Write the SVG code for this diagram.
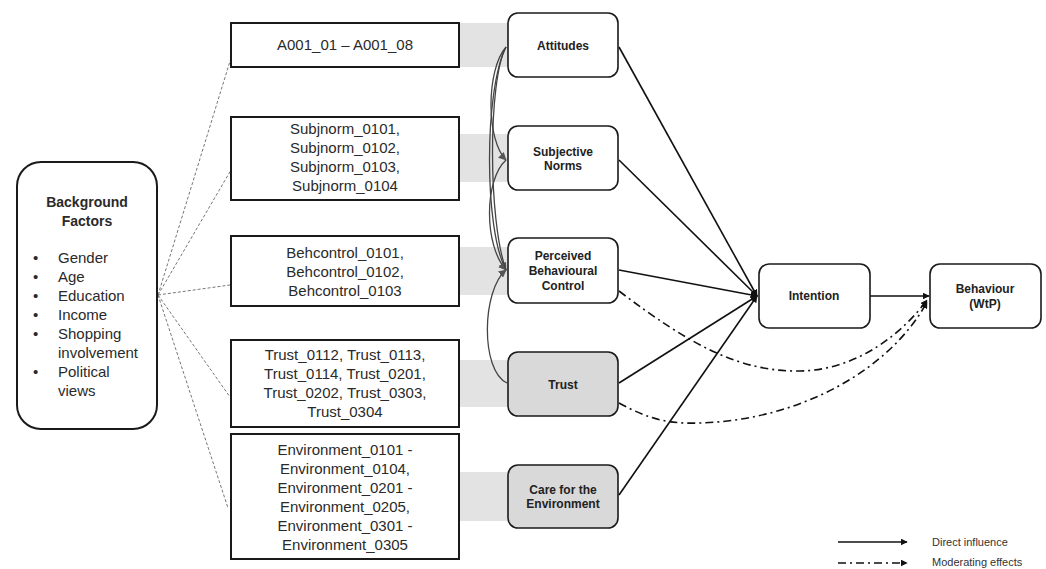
<svg xmlns="http://www.w3.org/2000/svg" width="1046" height="569" viewBox="0 0 1046 569">
<style>
.box{fill:#fff;stroke:#1a1a1a;stroke-width:2}
.node{fill:#fff;stroke:#1a1a1a;stroke-width:1.6}
.grey{fill:#d9d9d9}
.band{fill:#e3e3e3}
.t{font-family:"Liberation Sans",Arial,sans-serif;font-size:15px;fill:#2a2a2a;text-anchor:middle}
.b{font-family:"Liberation Sans",Arial,sans-serif;font-size:12px;font-weight:bold;fill:#222;text-anchor:middle}
.bf{font-family:"Liberation Sans",Arial,sans-serif;font-size:15px;fill:#2a2a2a}
.lg{font-family:"Liberation Sans",Arial,sans-serif;font-size:11px;fill:#333}
.dir{fill:none;stroke:#111;stroke-width:1.6}
.mod{fill:none;stroke:#111;stroke-width:1.6;stroke-dasharray:8 4 2 4}
.cor{fill:none;stroke:#444;stroke-width:1.3}
.bg{fill:none;stroke:#777;stroke-width:1;stroke-dasharray:3 2}
</style>
<defs>
<marker id="ah" viewBox="0 0 10 10" refX="9" refY="5" markerWidth="7" markerHeight="7" orient="auto" markerUnits="userSpaceOnUse"><path d="M0,0 L10,5 L0,10 z" fill="#111"/></marker>
<marker id="ag" viewBox="0 0 10 10" refX="9" refY="5" markerWidth="8" markerHeight="8" orient="auto" markerUnits="userSpaceOnUse"><path d="M0,0 L10,5 L0,10 z" fill="#555"/></marker>
</defs>
<rect width="1046" height="569" fill="#fff"/>

<g id="bands">
<rect class="band" x="459" y="23" width="50" height="44"/>
<rect class="band" x="459" y="134" width="50" height="48"/>
<rect class="band" x="459" y="247" width="50" height="48"/>
<rect class="band" x="459" y="360" width="50" height="47"/>
<rect class="band" x="459" y="472" width="50" height="49"/>
</g>

<g id="connectors">
<path class="bg" d="M158,295 L231,58"/>
<path class="bg" d="M158,295 L231,170"/>
<path class="bg" d="M158,295 L230,285"/>
<path class="bg" d="M158,295 L230,397"/>
<path class="bg" d="M158,295 L228,508"/>

<path class="cor" d="M506,47 C486,70 486,140 506,160" marker-end="url(#ag)"/>
<path class="cor" d="M506,47 C484,90 484,230 506,270" marker-end="url(#ag)"/>
<path class="cor" d="M506,160 C484,180 484,245 506,270" marker-end="url(#ag)"/>
<path class="cor" d="M507,383 C480,370 482,290 506,270" marker-end="url(#ag)"/>
<path class="cor" d="M506,47 C488,80 488,220 506,270"/>

<path class="dir" d="M619,47 L757,296" marker-end="url(#ah)"/>
<path class="dir" d="M619,160 L757,296" marker-end="url(#ah)"/>
<path class="dir" d="M619,270 L757,296" marker-end="url(#ah)"/>
<path class="dir" d="M619,383 L757,296" marker-end="url(#ah)"/>
<path class="dir" d="M619,495 L757,296" marker-end="url(#ah)"/>
<path class="dir" d="M870,296 L929,296" marker-end="url(#ah)"/>

<path class="mod" d="M619,291 C690,345 740,372 800,371 C860,370 905,330 927,300" marker-end="url(#ah)"/>
<path class="mod" d="M619,403 C650,420 670,424 700,423 C800,420 890,370 927,302" marker-end="url(#ah)"/>
</g>

<g id="background">
<rect class="box" x="17" y="162" width="140" height="267" rx="24"/>
<text class="t" x="87" y="207" style="font-size:14px;font-weight:bold">Background</text>
<text class="t" x="87" y="226" style="font-size:14px;font-weight:bold">Factors</text>
<g class="bf">
<text x="33" y="263">•</text><text x="58" y="263">Gender</text>
<text x="33" y="282">•</text><text x="58" y="282">Age</text>
<text x="33" y="301">•</text><text x="58" y="301">Education</text>
<text x="33" y="320">•</text><text x="58" y="320">Income</text>
<text x="33" y="339">•</text><text x="58" y="339">Shopping</text>
<text x="58" y="358">involvement</text>
<text x="33" y="377">•</text><text x="58" y="377">Political</text>
<text x="58" y="396">views</text>
</g>
</g>

<g id="items-attitudes">
<rect class="box" x="231" y="23" width="228" height="44"/>
<text class="t" x="345" y="50">A001_01 – A001_08</text>
</g>
<g id="items-subjnorm">
<rect class="box" x="231" y="117" width="228" height="83"/>
<text class="t" x="345" y="134">Subjnorm_0101,</text>
<text class="t" x="345" y="153">Subjnorm_0102,</text>
<text class="t" x="345" y="172">Subjnorm_0103,</text>
<text class="t" x="345" y="191">Subjnorm_0104</text>
</g>
<g id="items-behcontrol">
<rect class="box" x="231" y="236" width="228" height="70"/>
<text class="t" x="345" y="258">Behcontrol_0101,</text>
<text class="t" x="345" y="277">Behcontrol_0102,</text>
<text class="t" x="345" y="296">Behcontrol_0103</text>
</g>
<g id="items-trust">
<rect class="box" x="231" y="340" width="228" height="87"/>
<text class="t" x="345" y="360">Trust_0112, Trust_0113,</text>
<text class="t" x="345" y="379">Trust_0114, Trust_0201,</text>
<text class="t" x="345" y="398">Trust_0202, Trust_0303,</text>
<text class="t" x="345" y="417">Trust_0304</text>
</g>
<g id="items-environment">
<rect class="box" x="231" y="434" width="228" height="125"/>
<text class="t" x="345" y="455">Environment_0101 -</text>
<text class="t" x="345" y="474">Environment_0104,</text>
<text class="t" x="345" y="493">Environment_0201 -</text>
<text class="t" x="345" y="512">Environment_0205,</text>
<text class="t" x="345" y="531">Environment_0301 -</text>
<text class="t" x="345" y="550">Environment_0305</text>
</g>

<g id="attitudes">
<rect class="node" x="508" y="13" width="110" height="64" rx="10"/>
<text class="b" x="563" y="50">Attitudes</text>
</g>
<g id="subjective-norms">
<rect class="node" x="508" y="126" width="110" height="64" rx="10"/>
<text class="b" x="563" y="156">Subjective</text>
<text class="b" x="563" y="170">Norms</text>
</g>
<g id="pbc">
<rect class="node" x="508" y="238" width="110" height="65" rx="10"/>
<text class="b" x="563" y="260">Perceived</text>
<text class="b" x="563" y="275">Behavioural</text>
<text class="b" x="563" y="290">Control</text>
</g>
<g id="trust">
<rect class="node grey" x="508" y="352" width="110" height="64" rx="10"/>
<text class="b" x="563" y="389">Trust</text>
</g>
<g id="care-environment">
<rect class="node grey" x="508" y="465" width="110" height="63" rx="10"/>
<text class="b" x="563" y="494">Care for the</text>
<text class="b" x="563" y="508">Environment</text>
</g>
<g id="intention">
<rect class="node" x="759" y="264" width="111" height="64" rx="10"/>
<text class="b" x="814" y="300">Intention</text>
</g>
<g id="behaviour">
<rect class="node" x="930" y="264" width="111" height="64" rx="10"/>
<text class="b" x="985" y="293">Behaviour</text>
<text class="b" x="985" y="308">(WtP)</text>
</g>

<g id="legend">
<path class="dir" d="M838,542 L907,542" marker-end="url(#ah)"/>
<text class="lg" x="932" y="546">Direct influence</text>
<path class="mod" d="M838,563 L907,563" marker-end="url(#ah)"/>
<text class="lg" x="932" y="566">Moderating effects</text>
</g>
</svg>
